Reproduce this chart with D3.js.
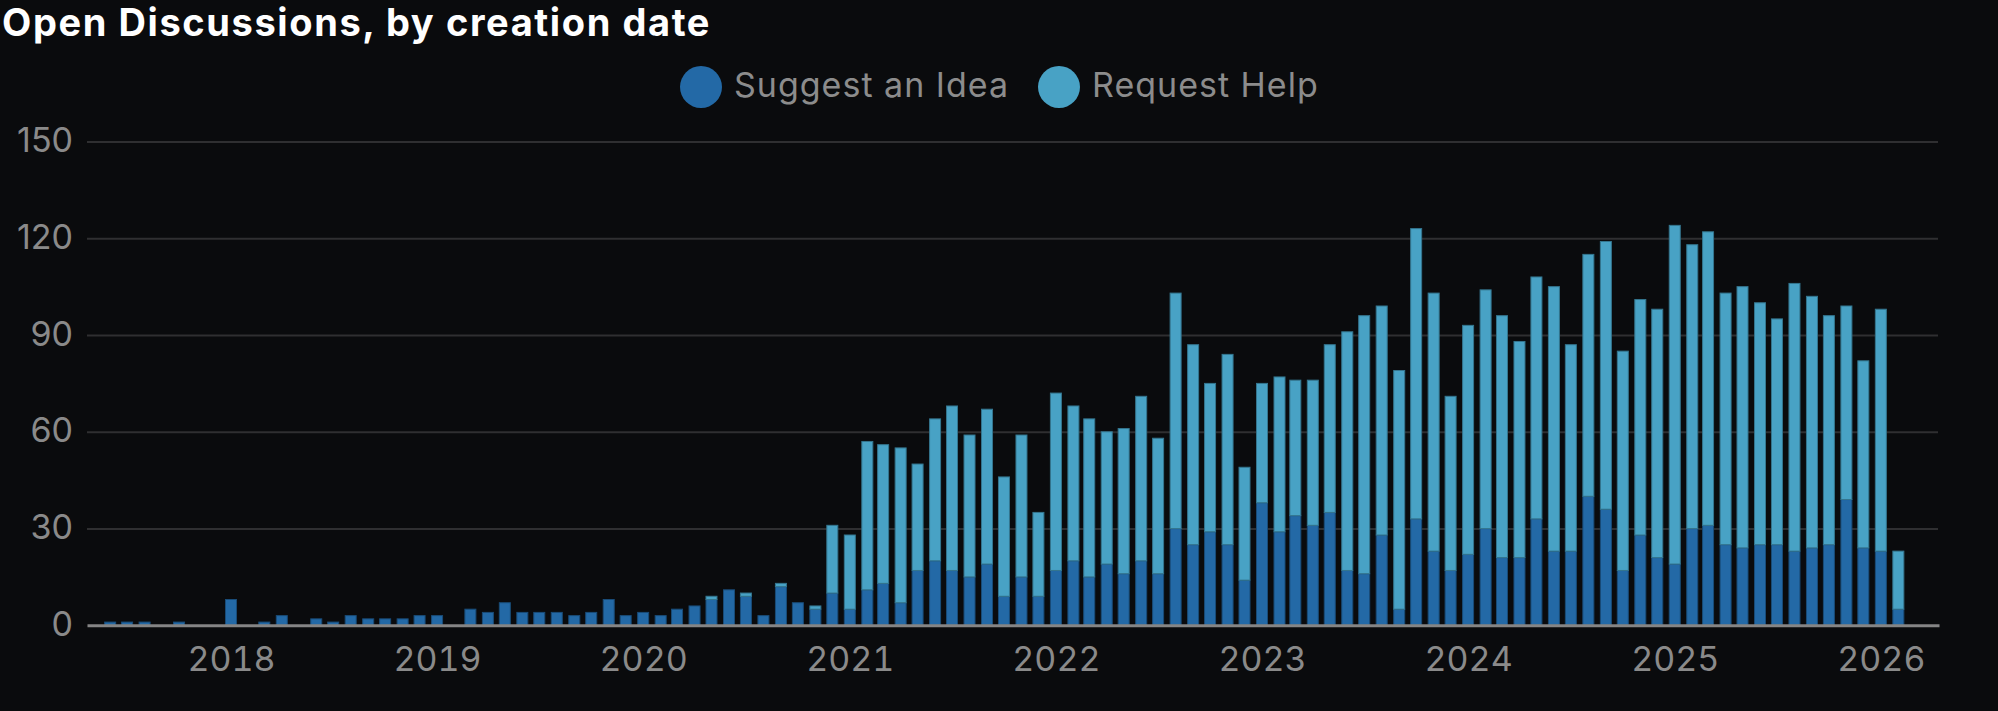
<!DOCTYPE html>
<html>
<head>
<meta charset="utf-8">
<script src="https://cdn.jsdelivr.net/npm/d3@7"></script>
<style>
  html, body { margin: 0; padding: 0; background: #0a0b0d; }
  svg { display: block; }
  text { font-family: Inter, 'Noto Sans', sans-serif; }
</style>
</head>
<body>
<div id="chart"></div>
<script>
// monthly buckets, Jun 2017 .. Feb 2026
const startMonth = "2017-06"
const monthCount = 105

const seriesNames = ["Suggest an Idea", "Request Help"]
const seriesColors = ["#2369a6", "#48a2c5"]

const suggestIdea = [
    1, 1, 1, 0, 1, 0, 0,
    8, 0, 1, 3, 0, 2, 1, 3, 2, 2, 2, 3,
    3, 0, 5, 4, 7, 4, 4, 4, 3, 4, 8, 3,
    4, 3, 5, 6, 8, 11, 9, 3, 12, 7, 5, 10,
    5, 11, 13, 7, 17, 20, 17, 15, 19, 9, 15, 9,
    17, 20, 15, 19, 16, 20, 16, 30, 25, 29, 25, 14,
    38, 29, 34, 31, 35, 17, 16, 28, 5, 33, 23, 17,
    22, 30, 21, 21, 33, 23, 23, 40, 36, 17, 28, 21,
    19, 30, 31, 25, 24, 25, 25, 23, 24, 25, 39, 24,
    23, 5
]
const requestHelp = [
    0, 0, 0, 0, 0, 0, 0,
    0, 0, 0, 0, 0, 0, 0, 0, 0, 0, 0, 0,
    0, 0, 0, 0, 0, 0, 0, 0, 0, 0, 0, 0,
    0, 0, 0, 0, 1, 0, 1, 0, 1, 0, 1, 21,
    23, 46, 43, 48, 33, 44, 51, 44, 48, 37, 44, 26,
    55, 48, 49, 41, 45, 51, 42, 73, 62, 46, 59, 35,
    37, 48, 42, 45, 52, 74, 80, 71, 74, 90, 80, 54,
    71, 74, 75, 67, 75, 82, 64, 75, 83, 68, 73, 77,
    105, 88, 91, 78, 81, 75, 70, 83, 78, 71, 60, 58,
    75, 18
]
const yTicks = [0, 30, 60, 90, 120, 150]
const yearTicks = [2018, 2019, 2020, 2021, 2022, 2023, 2024, 2025, 2026]

function drawChart() {
    let width = 1998
    let height = 711
    let left = 87, right = 1939
    let top = 141.5, bottom = 625.3

    let parseMonth = d3.utcParse("%Y-%m")
    let first = parseMonth(startMonth)
    let months = d3.utcMonth.range(first, d3.utcMonth.offset(first, monthCount))

    let rows = months.map((m, i) => ({
        date: m,
        [seriesNames[0]]: suggestIdea[i],
        [seriesNames[1]]: requestHelp[i]
    }))

    let stacked = d3.stack().keys(seriesNames)(rows)

    let svg = d3.select("#chart").append("svg")
        .attr("width", width)
        .attr("height", height)
        .style("background", "#0a0b0d")

    let x = d3.scaleUtc()
        .domain([new Date(Date.UTC(2017, 3, 21)), new Date(Date.UTC(2026, 3, 14))])
        .range([left, right])
    let y = d3.scaleLinear().domain([0, 150]).range([bottom, top])
    let color = d3.scaleOrdinal(seriesNames, seriesColors)

    // title
    svg.append("text")
        .attr("x", 2)
        .attr("y", 36)
        .attr("fill", "#ffffff")
        .style("font-weight", 700)
        .style("font-size", "38px")
        .style("letter-spacing", "1.6px")
        .text("Open Discussions, by creation date")

    // legend
    let legendX = [701, 1059]
    let legend = svg.append("g")
    seriesNames.forEach((name, i) => {
        legend.append("circle")
            .attr("cx", legendX[i])
            .attr("cy", 87)
            .attr("r", 21)
            .attr("fill", color(name))
        legend.append("text")
            .attr("x", legendX[i] + 33)
            .attr("y", 97)
            .attr("fill", "#8c8c8c")
            .style("font-size", "34px")
            .style("letter-spacing", "1px")
            .text(name)
    })

    // grid + y labels
    let yAxis = d3.axisLeft(y).tickValues(yTicks).tickSize(0).tickPadding(14)
    let yg = svg.append("g")
        .attr("transform", `translate(${left},0)`)
        .call(yAxis)
    yg.select(".domain").remove()
    yg.selectAll("text")
        .attr("fill", "#8a8a8a")
        .attr("dy", "0.3em")
        .style("font-size", "34px")
    yg.selectAll(".tick").filter(d => d > 0).append("line")
        .attr("x1", 0)
        .attr("x2", right - 1 - left)
        .attr("stroke", "#2f2f31")
        .attr("stroke-width", 2)

    // bars
    let barW = 11
    svg.append("g")
        .selectAll("g")
        .data(stacked)
        .join("g")
        .attr("fill", d => color(d.key))
        .attr("stroke", d => d3.color(color(d.key)).darker(0.9))
        .attr("stroke-width", 1)
        .selectAll("rect")
        .data(d => d.filter(p => p[1] > p[0]))
        .join("rect")
        .attr("x", d => x(d.data.date) - barW / 2)
        .attr("width", barW)
        .attr("y", d => y(d[1]))
        .attr("height", d => y(d[0]) - y(d[1]))

    // x axis
    let xAxis = d3.axisBottom(x)
        .tickValues(yearTicks.map(yr => new Date(Date.UTC(yr, 0, 1))))
        .tickFormat(d3.utcFormat("%Y"))
        .tickSize(0)
        .tickPadding(20)
    let xg = svg.append("g")
        .attr("transform", `translate(0,${bottom})`)
        .call(xAxis)
    xg.select(".domain")
        .attr("stroke", "#858585")
        .attr("stroke-width", 3)
    xg.selectAll("text")
        .attr("fill", "#8a8a8a")
        .attr("dy", "0.75em")
        .style("font-size", "34px")
        .style("font-feature-settings", "'tnum'")
}

drawChart()
</script>
</body>
</html>
